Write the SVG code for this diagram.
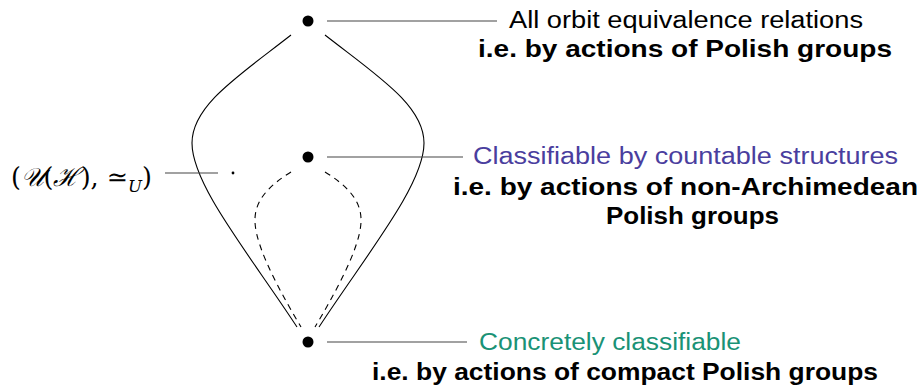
<svg xmlns="http://www.w3.org/2000/svg" width="923" height="387" viewBox="0 0 923 387">
<style>
.dot{fill:#000}
.lead{stroke:#444;stroke-width:1.2;fill:none}
.solid{stroke:#000;stroke-width:1.1;fill:none}
.dash{stroke:#000;stroke-width:1.1;fill:none;stroke-dasharray:6 5}
.t{font-family:"Liberation Sans","DejaVu Sans",sans-serif;font-size:23px;fill:#000}
.b{font-family:"Liberation Sans","DejaVu Sans",sans-serif;font-size:23px;font-weight:bold;fill:#000}
.m{font-family:"DejaVu Serif","Liberation Serif",serif;font-size:26px;fill:#000}
</style>
<rect width="923" height="387" fill="#fff"/>
<g id="connectors">
<path class="solid" d="M 291 35 C 240 75, 192 105, 192 143 C 192 185, 250 255, 297 327"/>
<path class="solid" d="M 325 35 C 376 75, 424 105, 424 143 C 424 185, 366 255, 319 327"/>
<path class="dash" d="M 291 172 C 270 185, 254 200, 255 222 C 256 250, 285 300, 301 327"/>
<path class="dash" d="M 325 172 C 346 185, 362 200, 361 222 C 360 250, 331 300, 315 327"/>
<line class="lead" x1="327" y1="21" x2="497" y2="21"/>
<line class="lead" x1="327" y1="157" x2="463" y2="157"/>
<line class="lead" x1="327" y1="342" x2="467" y2="342"/>
<line class="lead" x1="165" y1="173" x2="218" y2="173"/>
</g>
<g id="top">
<circle class="dot" cx="308" cy="21" r="5.5"/>
<text class="t" x="509" y="28" textLength="354" lengthAdjust="spacingAndGlyphs">All orbit equivalence relations</text>
<text class="b" x="478" y="57" textLength="414" lengthAdjust="spacingAndGlyphs">i.e. by actions of Polish groups</text>
</g>
<g id="middle">
<circle class="dot" cx="308" cy="157" r="5.5"/>
<text class="t" x="473" y="164" textLength="425" lengthAdjust="spacingAndGlyphs" style="fill:#4a3e9e">Classifiable by countable structures</text>
<text class="b" x="453" y="195" textLength="465" lengthAdjust="spacingAndGlyphs">i.e. by actions of non-Archimedean</text>
<text class="b" x="606" y="224" textLength="173" lengthAdjust="spacingAndGlyphs">Polish groups</text>
</g>
<g id="bottom">
<circle class="dot" cx="308" cy="342" r="5.5"/>
<text class="t" x="479" y="350" textLength="262" lengthAdjust="spacingAndGlyphs" style="fill:#1a9276">Concretely classifiable</text>
<text class="b" x="372" y="380" textLength="506" lengthAdjust="spacingAndGlyphs">i.e. by actions of compact Polish groups</text>
</g>
<g id="unitary">
<circle class="dot" cx="233" cy="173" r="1.4"/>
<text class="m" x="11" y="186" textLength="141" lengthAdjust="spacingAndGlyphs">(<tspan font-style="italic">𝒰</tspan>(<tspan font-style="italic">ℋ</tspan>), ≃<tspan font-size="17" font-style="italic" dy="6">U</tspan><tspan dy="-6">)</tspan></text>
</g>
</svg>
